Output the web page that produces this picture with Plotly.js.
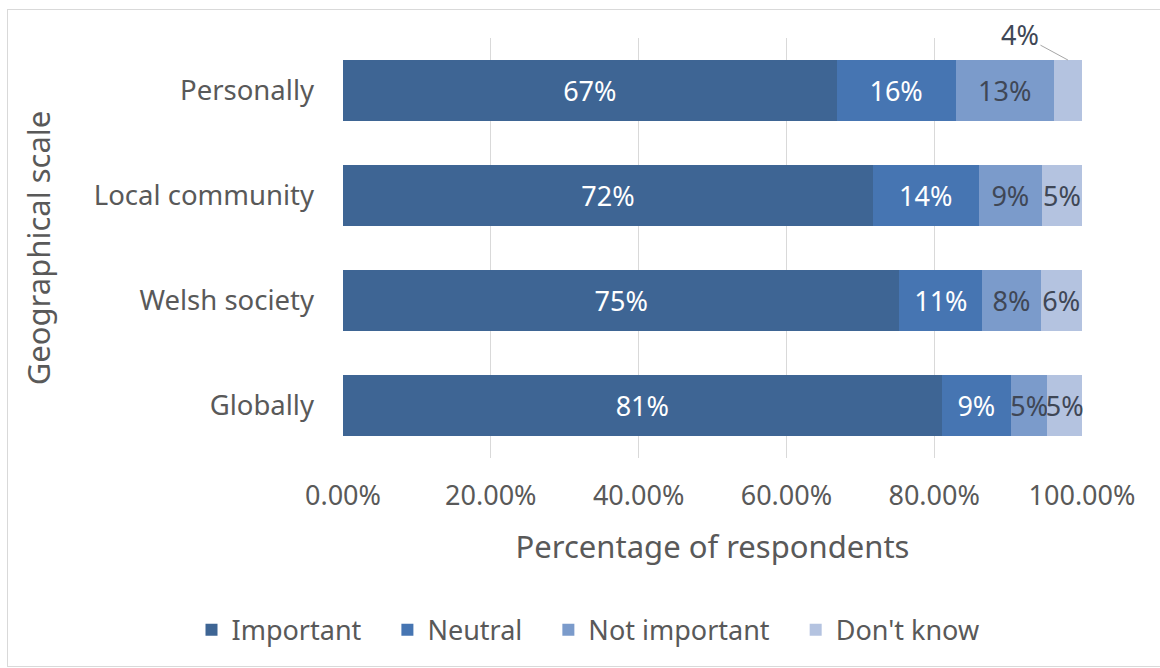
<!DOCTYPE html>
<html>
<head>
<meta charset="utf-8">
<script src="https://cdn.plot.ly/plotly-3.0.1.min.js"></script>
<style>
  html, body { margin: 0; padding: 0; background: #fff; }
  #wrap { position: relative; width: 1160px; height: 668px; }
  #chart { position: absolute; left: 0; top: 0; width: 1160px; height: 668px; }
  #frame { position: absolute; left: 7px; top: 9px; width: 1160px; height: 658px; border: 1px solid #d9d9d9; box-sizing: border-box; pointer-events: none; }
</style>
</head>
<body>
<div id="wrap">
  <div id="chart"></div>
  <div id="frame"></div>
</div>
<script>
// Categories listed bottom-to-top
const categories = ["Globally", "Welsh society", "Local community", "Personally"];
const seriesNames = ["Important", "Neutral", "Not important", "Don't know"];
const important    = [0.810, 0.753, 0.717, 0.668];
const neutral      = [0.094, 0.112, 0.143, 0.161];
const notImportant = [0.049, 0.079, 0.086, 0.133];
const dontKnow     = [0.047, 0.056, 0.054, 0.038];
const tickVals = [0, 0.2, 0.4, 0.6, 0.8, 1.0];
const tickText = ["0.00%", "20.00%", "40.00%", "60.00%", "80.00%", "100.00%"];

const seriesValues = [important, neutral, notImportant, dontKnow];
const colors = ["#3e6594", "#4675b2", "#7b9bcb", "#b4c3e0"];
const textColors = ["#ffffff", "#ffffff", "#3f4756", "#3f4756"];
const FONT = "'Noto Sans', 'Open Sans', sans-serif";
const NB = "\u00A0";

const traces = seriesValues.map((vals, i) => {
  const txt = vals.map((v, j) => {
    // Personally's "Don't know" label is drawn outside with a leader line
    if (i === 3 && categories[j] === "Personally") return "";
    return Math.round(v * 100) + "%";
  });
  return {
    type: "bar",
    orientation: "h",
    name: seriesNames[i] + (i < 3 ? NB.repeat(3) : ""),
    y: categories,
    x: vals,
    text: txt,
    textposition: "inside",
    insidetextanchor: "middle",
    textangle: 0,
    textfont: { family: FONT, size: 27, color: textColors[i] },
    marker: { color: colors[i], line: { width: 0 } },
    cliponaxis: false,
    hoverinfo: "skip"
  };
});

const pIdx = categories.indexOf("Personally");
const pdkCenter = important[pIdx] + neutral[pIdx] + notImportant[pIdx] + dontKnow[pIdx] / 2;

const layout = {
  width: 1160,
  height: 668,
  margin: { l: 343, r: 78, t: 38, b: 210, autoexpand: false },
  paper_bgcolor: "#ffffff",
  plot_bgcolor: "#ffffff",
  barmode: "stack",
  bargap: 0.42,
  font: { family: FONT, color: "#595959", size: 27 },
  uniformtext: { mode: "show", minsize: 27 },
  xaxis: {
    range: [0, 1],
    tickvals: tickVals,
    ticktext: tickText,
    showgrid: true,
    gridcolor: "#d9d9d9",
    gridwidth: 1,
    zeroline: false,
    showline: false,
    ticks: "",
    automargin: false,
    ticklabelstandoff: 19,
    tickfont: { family: FONT, size: 27, color: "#595959" },
    title: { text: "Percentage of respondents", font: { family: FONT, size: 31, color: "#595959" }, standoff: 24 },
    fixedrange: true
  },
  yaxis: {
    type: "category",
    categoryorder: "array",
    categoryarray: categories,
    range: [-0.5, categories.length - 0.5],
    autorange: false,
    showgrid: false,
    zeroline: false,
    showline: false,
    ticks: "",
    automargin: false,
    ticklabelstandoff: 28,
    tickfont: { family: FONT, size: 27.5, color: "#595959" },
    title: { text: "Geographical scale", font: { family: FONT, size: 31, color: "#595959" }, standoff: 33 },
    fixedrange: true
  },
  legend: {
    orientation: "h",
    x: -0.205,
    xanchor: "left",
    y: -0.41,
    yanchor: "middle",
    font: { family: FONT, size: 27, color: "#595959" },
    traceorder: "normal",
    itemwidth: 30
  },
  showlegend: true,
  annotations: [{
    x: pdkCenter,
    y: pIdx + 0.29,
    xref: "x",
    yref: "y",
    text: Math.round(dontKnow[pIdx] * 100) + "%",
    showarrow: true,
    arrowhead: 0,
    arrowwidth: 1,
    arrowcolor: "#a6a6a6",
    ax: -48,
    ay: -26,
    font: { family: FONT, size: 27, color: "#3f4756" }
  }]
};

Plotly.newPlot("chart", traces, layout, { displayModeBar: false, staticPlot: true });
</script>
</body>
</html>
